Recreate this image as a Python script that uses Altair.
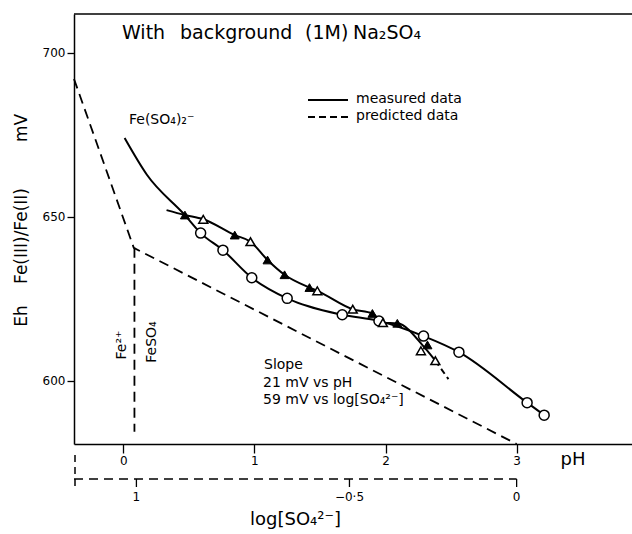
import altair as alt
import pandas as pd

# ---- data ----
# measured curve through open circles
circ_ph = [0.59, 0.76, 0.98, 1.25, 1.67, 1.95, 2.29, 2.56, 3.08, 3.21]
circ_eh = [645.0, 639.8, 631.4, 625.1, 620.1, 618.2, 613.6, 608.7, 593.3, 589.5]
# filled triangles
ftri_ph = [0.47, 0.85, 1.10, 1.23, 1.42, 1.90, 2.09, 2.32]
ftri_eh = [650.5, 644.4, 636.8, 632.3, 628.4, 620.5, 617.5, 610.9]
# open triangles
otri_ph = [0.61, 0.97, 1.48, 1.75, 1.98, 2.27, 2.38]
otri_eh = [649.2, 642.4, 627.4, 621.8, 617.7, 609.1, 606.1]

# measured line paths
line1_ph = [0.01, 0.18, 0.47, 0.59, 0.76, 0.98, 1.25, 1.67, 1.95, 2.29, 2.56, 3.08, 3.21]
line1_eh = [674.0, 662.8, 650.5, 645.0, 639.8, 631.4, 625.1, 620.1, 618.2, 613.6, 608.7, 593.3, 589.5]
line2_ph = [0.33, 0.47, 0.61, 0.85, 0.97, 1.10, 1.23, 1.42, 1.48, 1.75, 1.90, 1.98, 2.09, 2.30, 2.38]
line2_eh = [652.0, 650.5, 649.2, 644.4, 642.4, 636.8, 632.3, 628.4, 627.4, 621.8, 620.5, 617.7, 617.5, 610.0, 606.1]
line2_end_ph = [2.38, 2.48]
line2_end_eh = [606.1, 600.5]

# predicted (dashed) lines
pred_ph = [-0.376, 0.08, 3.0]
pred_eh = [692.0, 640.5, 580.7]
predv_ph = [0.085, 0.085]
predv_eh = [640.5, 584.4]

# secondary log[SO4] axis
log_tick_ph = [0.1, 1.725, 3.0]
log_tick_lab = ["1", "\u22120\u00b75", "0"]

x_ticks = [0, 1, 2, 3]
y_ticks = [600, 650, 700]

FONT = "DejaVu Sans"

xs = alt.Scale(domain=[-0.376, 3.88], nice=False, zero=False)
ys = alt.Scale(domain=[580.7, 711.8], nice=False, zero=False)


def X(field="ph"):
    return alt.X(f"{field}:Q", scale=xs,
                 axis=alt.Axis(values=x_ticks, format="d", tickSize=9, labelPadding=2,
                               domainWidth=1.5, tickWidth=1.3, title=None,
                               labelFontSize=12, labelFont=FONT, labelColor="black",
                               domainColor="black", tickColor="black", grid=False))


def Y(field="eh"):
    return alt.Y(f"{field}:Q", scale=ys,
                 axis=alt.Axis(values=y_ticks, tickSize=7, labelPadding=2,
                               domainWidth=1.5, tickWidth=1.3, title=None,
                               labelFontSize=12, labelFont=FONT, labelColor="black",
                               domainColor="black", tickColor="black", grid=False))


def df(ph, eh):
    return pd.DataFrame({"ph": ph, "eh": eh})


pred = alt.Chart(df(pred_ph, pred_eh)).mark_line(
    color="black", strokeWidth=1.8, strokeDash=[10, 6]).encode(x=X(), y=Y())
predv = alt.Chart(df(predv_ph, predv_eh)).mark_line(
    color="black", strokeWidth=1.8, strokeDash=[10, 6]).encode(x=X(), y=Y())

line1 = alt.Chart(df(line1_ph, line1_eh)).mark_line(
    color="black", strokeWidth=2, interpolate="monotone").encode(x=X(), y=Y())
line2 = alt.Chart(df(line2_ph, line2_eh)).mark_line(
    color="black", strokeWidth=2, interpolate="monotone").encode(x=X(), y=Y())
line2e = alt.Chart(df(line2_end_ph, line2_end_eh)).mark_line(
    color="black", strokeWidth=2, strokeDash=[6, 4]).encode(x=X(), y=Y())

circ = alt.Chart(df(circ_ph, circ_eh)).mark_point(
    shape="circle", filled=True, fill="white", stroke="black", strokeWidth=1.5,
    size=100, opacity=1).encode(x=X(), y=Y())
otri = alt.Chart(df(otri_ph, otri_eh)).mark_point(
    shape="triangle-up", filled=True, fill="white", stroke="black", strokeWidth=1.5,
    size=80, opacity=1).encode(x=X(), y=Y())
ftri = alt.Chart(df(ftri_ph, ftri_eh)).mark_point(
    shape="triangle-up", filled=True, fill="black", stroke="black", strokeWidth=1,
    size=80, opacity=1).encode(x=X(), y=Y())

one = pd.DataFrame({"a": [0]})

# top border
top = alt.Chart(one).mark_rule(color="black", strokeWidth=1.5).encode(
    x=alt.value(0), x2=alt.value(558), y=alt.value(0))

# secondary axis
log_df = pd.DataFrame({"ph": log_tick_ph, "lab": log_tick_lab})
sec_line = alt.Chart(pd.DataFrame({"ph": [pred_ph[0]], "ph2": [log_tick_ph[-1]]})).mark_rule(
    color="black", strokeWidth=1.5, strokeDash=[9, 6]).encode(
    x=alt.X("ph:Q", scale=xs), x2="ph2:Q", y=alt.value(465))
sec_left = alt.Chart(one).mark_rule(
    color="black", strokeWidth=1.5, strokeDash=[7, 5]).encode(
    x=alt.value(1), y=alt.value(441), y2=alt.value(476))
sec_ticks = alt.Chart(log_df).mark_rule(color="black", strokeWidth=1.3).encode(
    x=alt.X("ph:Q", scale=xs), y=alt.value(465), y2=alt.value(473))
sec_labels = alt.Chart(log_df).mark_text(font=FONT, fontSize=12, color="black").encode(
    x=alt.X("ph:Q", scale=xs), y=alt.value(483), text="lab:N")

# legend
leg_solid = alt.Chart(one).mark_rule(color="black", strokeWidth=2).encode(
    x=alt.value(234), x2=alt.value(274), y=alt.value(86))
leg_dash = alt.Chart(one).mark_rule(color="black", strokeWidth=1.8, strokeDash=[7, 4]).encode(
    x=alt.value(234), x2=alt.value(274), y=alt.value(103))


def label(txt, x, y, size=14, angle=0, align="left"):
    return alt.Chart(one).mark_text(
        text=txt, font=FONT, fontSize=size, color="black", align=align,
        baseline="middle", angle=angle).encode(x=alt.value(x), y=alt.value(y))


texts = [
    label("measured data", 282, 85),
    label("predicted data", 282, 102),
    # title
    label("With", 48, 19, size=19),
    label("background", 106, 19, size=19),
    label("(1M)", 231, 19, size=19),
    label("Na\u2082SO\u2084", 279, 19, size=19),
    label("Fe(SO\u2084)\u2082\u207b", 55, 106, size=14),
    label("Fe\u00b2\u207a", 48, 331, size=14, angle=270, align="center"),
    label("FeSO\u2084", 78, 328, size=14, angle=270, align="center"),
    label("Slope", 190, 351),
    label("21  mV vs pH", 189, 369),
    label("59  mV vs  log[SO\u2084\u00b2\u207b]", 189, 386),
    label("pH", 499, 446, size=18, align="center"),
    label("log[SO\u2084\u00b2\u207b]", 176, 506, size=18),
    # y title pieces
    label("Eh", -52, 302, size=17, angle=270, align="center"),
    label("Fe(III)/Fe(II)", -52, 222, size=17, angle=270, align="center"),
    label("mV", -52, 114, size=17, angle=270, align="center"),
]

chart = alt.layer(
    pred, predv, line1, line2, line2e, circ, otri, ftri, top,
    sec_line, sec_left, sec_ticks, sec_labels, leg_solid, leg_dash, *texts
).properties(
    width=558, height=430,
    padding={"left": 74, "top": 14, "right": 0, "bottom": 90},
    autosize=alt.AutoSizeParams(type="none"),
    background="white",
).configure_view(stroke=None)

chart.save("out.html", embed_options={"renderer": "svg", "actions": False})
